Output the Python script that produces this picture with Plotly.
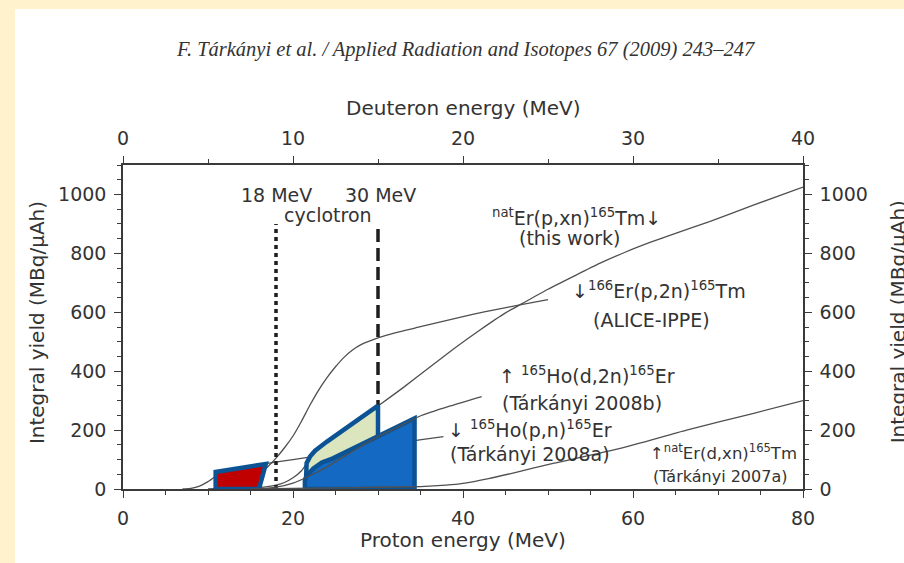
import plotly.graph_objects as go

# ---------------- data ----------------
# 166Er(p,2n)165Tm  ALICE-IPPE  (proton energy, MeV / yield MBq/uAh)
alice_E = [10, 12, 14, 16, 17, 18, 19, 20, 21, 22, 23, 24, 25, 26, 27, 28, 30, 32, 35, 38, 41, 44, 47, 50]
alice_Y = [0, 5, 20, 50, 75, 105, 140, 180, 230, 285, 335, 378, 415, 447, 472, 490, 513, 530, 551, 572, 592, 610, 627, 643]

# natEr(p,xn)165Tm  this work (proton energy)
this_E = [12, 15, 17, 18, 19, 20, 21, 22, 23, 24, 26, 28, 30, 33, 36, 39, 42, 45, 47, 50, 53, 56, 59, 62, 65, 69, 74, 80]
this_Y = [0, 3, 8, 13, 22, 38, 62, 102, 138, 162, 202, 242, 282, 345, 412, 478, 540, 598, 630, 678, 722, 765, 803, 837, 868, 908, 962, 1025]

# 165Ho(p,n)165Er  Tarkanyi 2008a (proton energy)
hopn_E = [7, 8, 9, 10, 11, 12, 14, 17, 20, 25, 30, 34.9, 37.7]
hopn_Y = [0, 2, 10, 25, 45, 60, 74, 87, 100, 122, 145, 167, 178]

# 165Ho(d,2n)165Er  Tarkanyi 2008b (deuteron energy)
hod2n_E = [8, 9, 10, 11, 12, 13, 14, 15, 16, 17.45, 19.25, 21.1]
hod2n_Y = [0, 6, 20, 45, 75, 110, 145, 178, 205, 247, 282, 314]

# natEr(d,xn)165Tm  Tarkanyi 2007a (deuteron energy)
erdxn_E = [7.5, 10, 12.5, 15, 17.5, 19, 20, 21.5, 23, 25.3, 29.25, 33.15, 37.1, 40]
erdxn_Y = [0, 2, 4, 6, 8, 13, 19, 35, 55, 87, 138, 200, 257, 300]

# cyclotron limits (proton energy) and height of the marker lines
cyclotron_E = [18, 30]
cyclotron_top = 900

# production windows (proton energy / yield)
red_E = [10.9, 10.9, 16.8, 16.0, 10.9]
red_Y = [0, 58, 85, 0, 0]
green_E = [21.5, 21.5, 21.6, 22.0, 22.6, 24.0, 30.0, 30.0, 21.5]
green_Y = [0, 60, 88, 110, 130, 161, 283, 0, 0]
blue_E = [21.4, 21.4, 21.6, 22.4, 23.4, 24.7, 34.3, 34.3, 21.4]
blue_Y = [0, 30, 45, 70, 90, 104, 240, 0, 0]

# ---------------- style ----------------
FONT = "DejaVu Sans"
TXT = "#333333"
AX = "#3a3a3a"
CURVE = "#505050"
OUTLINE = "#0B5394"

fig = go.Figure()

def curve(x, y, xaxis="x"):
    fig.add_trace(go.Scatter(x=x, y=y, mode="lines", xaxis=xaxis, yaxis="y",
                             line=dict(color=CURVE, width=1.3, shape="spline", smoothing=0.5),
                             hoverinfo="skip", showlegend=False))

curve(alice_E, alice_Y)
curve(this_E, this_Y)
curve(hopn_E, hopn_Y)
curve(hod2n_E, hod2n_Y, "x2")
curve(erdxn_E, erdxn_Y, "x2")

# cyclotron marker lines
fig.add_trace(go.Scatter(x=[cyclotron_E[0]] * 2, y=[0, cyclotron_top], mode="lines",
                         line=dict(color="#1e1e1e", width=3.5, dash="4px,4px"),
                         hoverinfo="skip", showlegend=False))
fig.add_trace(go.Scatter(x=[cyclotron_E[1]] * 2, y=[0, cyclotron_top], mode="lines",
                         line=dict(color="#1e1e1e", width=3.5, dash="13px,6px"),
                         hoverinfo="skip", showlegend=False))

def region(x, y, fill):
    fig.add_trace(go.Scatter(x=x, y=y, mode="lines", fill="toself", fillcolor=fill,
                             line=dict(color=OUTLINE, width=4.5), hoverinfo="skip",
                             showlegend=False))

region(green_E, green_Y, "#DCE6BE")
region(blue_E, blue_Y, "#1469C2")
region(red_E, red_Y, "#C00000")

# invisible trace so the mirrored axes are drawn
fig.add_trace(go.Scatter(x=[0], y=[0], xaxis="x2", yaxis="y2", mode="markers",
                         marker=dict(opacity=0), hoverinfo="skip", showlegend=False))

tickfont = dict(family=FONT, size=19, color=TXT)
common = dict(showline=True, linecolor=AX, linewidth=1.5, ticks="outside", ticklen=7,
              tickwidth=1.3, tickcolor=AX, showgrid=False, zeroline=False, tickfont=tickfont,
              ticklabelstandoff=4)

fig.update_layout(
    width=904, height=563,
    margin=dict(l=123, r=101, t=165, b=74, pad=0),
    paper_bgcolor="white", plot_bgcolor="white",
    xaxis=dict(range=[0, 80], tickvals=[0, 20, 40, 60, 80], side="bottom", anchor="y",
               minor=dict(dtick=5, ticklen=4, ticks="outside", tickcolor=AX), **common),
    xaxis2=dict(range=[0, 40], tickvals=[0, 10, 20, 30, 40], side="top", overlaying="x", anchor="y",
                minor=dict(dtick=5, ticklen=4, ticks="outside", tickcolor=AX), **common),
    yaxis=dict(range=[0, 1100], tickvals=[0, 200, 400, 600, 800, 1000], side="left", anchor="x",
               minor=dict(dtick=50, ticklen=4, ticks="outside", tickcolor=AX), **common),
    yaxis2=dict(range=[0, 1100], tickvals=[0, 200, 400, 600, 800, 1000], side="right",
                overlaying="y", anchor="x",
                minor=dict(dtick=50, ticklen=4, ticks="outside", tickcolor=AX), **common),
)

# page background bands
fig.add_shape(type="rect", xref="paper", yref="paper", x0=-0.3, x1=1.3, y0=1.4815, y1=1.7,
              fillcolor="#FFF2CC", line_width=0, layer="below")
fig.add_shape(type="rect", xref="paper", yref="paper", x0=-0.3, x1=-0.1588, y0=-0.4, y1=1.7,
              fillcolor="#FFF2CC", line_width=0, layer="below")

def ann(text, x, y, size=19, xref="x", yref="y", angle=0, family=FONT):
    fig.add_annotation(text=text, x=x, y=y, xref=xref, yref=yref, showarrow=False,
                       textangle=angle, xanchor="center", yanchor="middle",
                       font=dict(family=family, size=size, color=TXT))

# header and axis titles
ann("<i>F. Tárkányi et al. / Applied Radiation and Isotopes 67 (2009) 243–247</i>",
    0.503, 1.355, size=20.5, xref="paper", yref="paper", family="Liberation Serif")
ann("Deuteron energy (MeV)", 0.5, 1.176, size=20, xref="paper", yref="paper")
ann("Proton energy (MeV)", 0.5, -0.157, size=20, xref="paper", yref="paper")
ann("Integral yield (MBq/μAh)", -0.1265, 0.515, size=20, xref="paper", yref="paper", angle=-90)
ann("Integral yield (MBq/μAh)", 1.14, 0.515, size=20, xref="paper", yref="paper", angle=-90)

# cyclotron labels
ann("18 MeV", 18.0, 998)
ann("30 MeV", 30.35, 998)
ann("cyclotron", 24.1, 930)

# curve labels
ann("<sup>nat</sup>Er(p,xn)<sup>165</sup>Tm↓", 53.4, 923)
ann("(this work)", 52.6, 852)
ann("↓<sup>166</sup>Er(p,2n)<sup>165</sup>Tm", 63.1, 674)
ann("(ALICE-IPPE)", 62.2, 574)
ann("↑ <sup>165</sup>Ho(d,2n)<sup>165</sup>Er", 54.6, 386)
ann("(Tárkányi 2008b)", 54.0, 292)
ann("↓ <sup>165</sup>Ho(p,n)<sup>165</sup>Er", 47.9, 203)
ann("(Tárkányi 2008a)", 47.9, 119)
ann("↑<sup>nat</sup>Er(d,xn)<sup>165</sup>Tm", 70.6, 126, size=16.5)
ann("(Tárkányi 2007a)", 70.2, 41, size=16)

fig.write_html("out.html", config={"displayModeBar": False},
               post_script="document.body.style.margin='0';document.body.style.padding='0';")
